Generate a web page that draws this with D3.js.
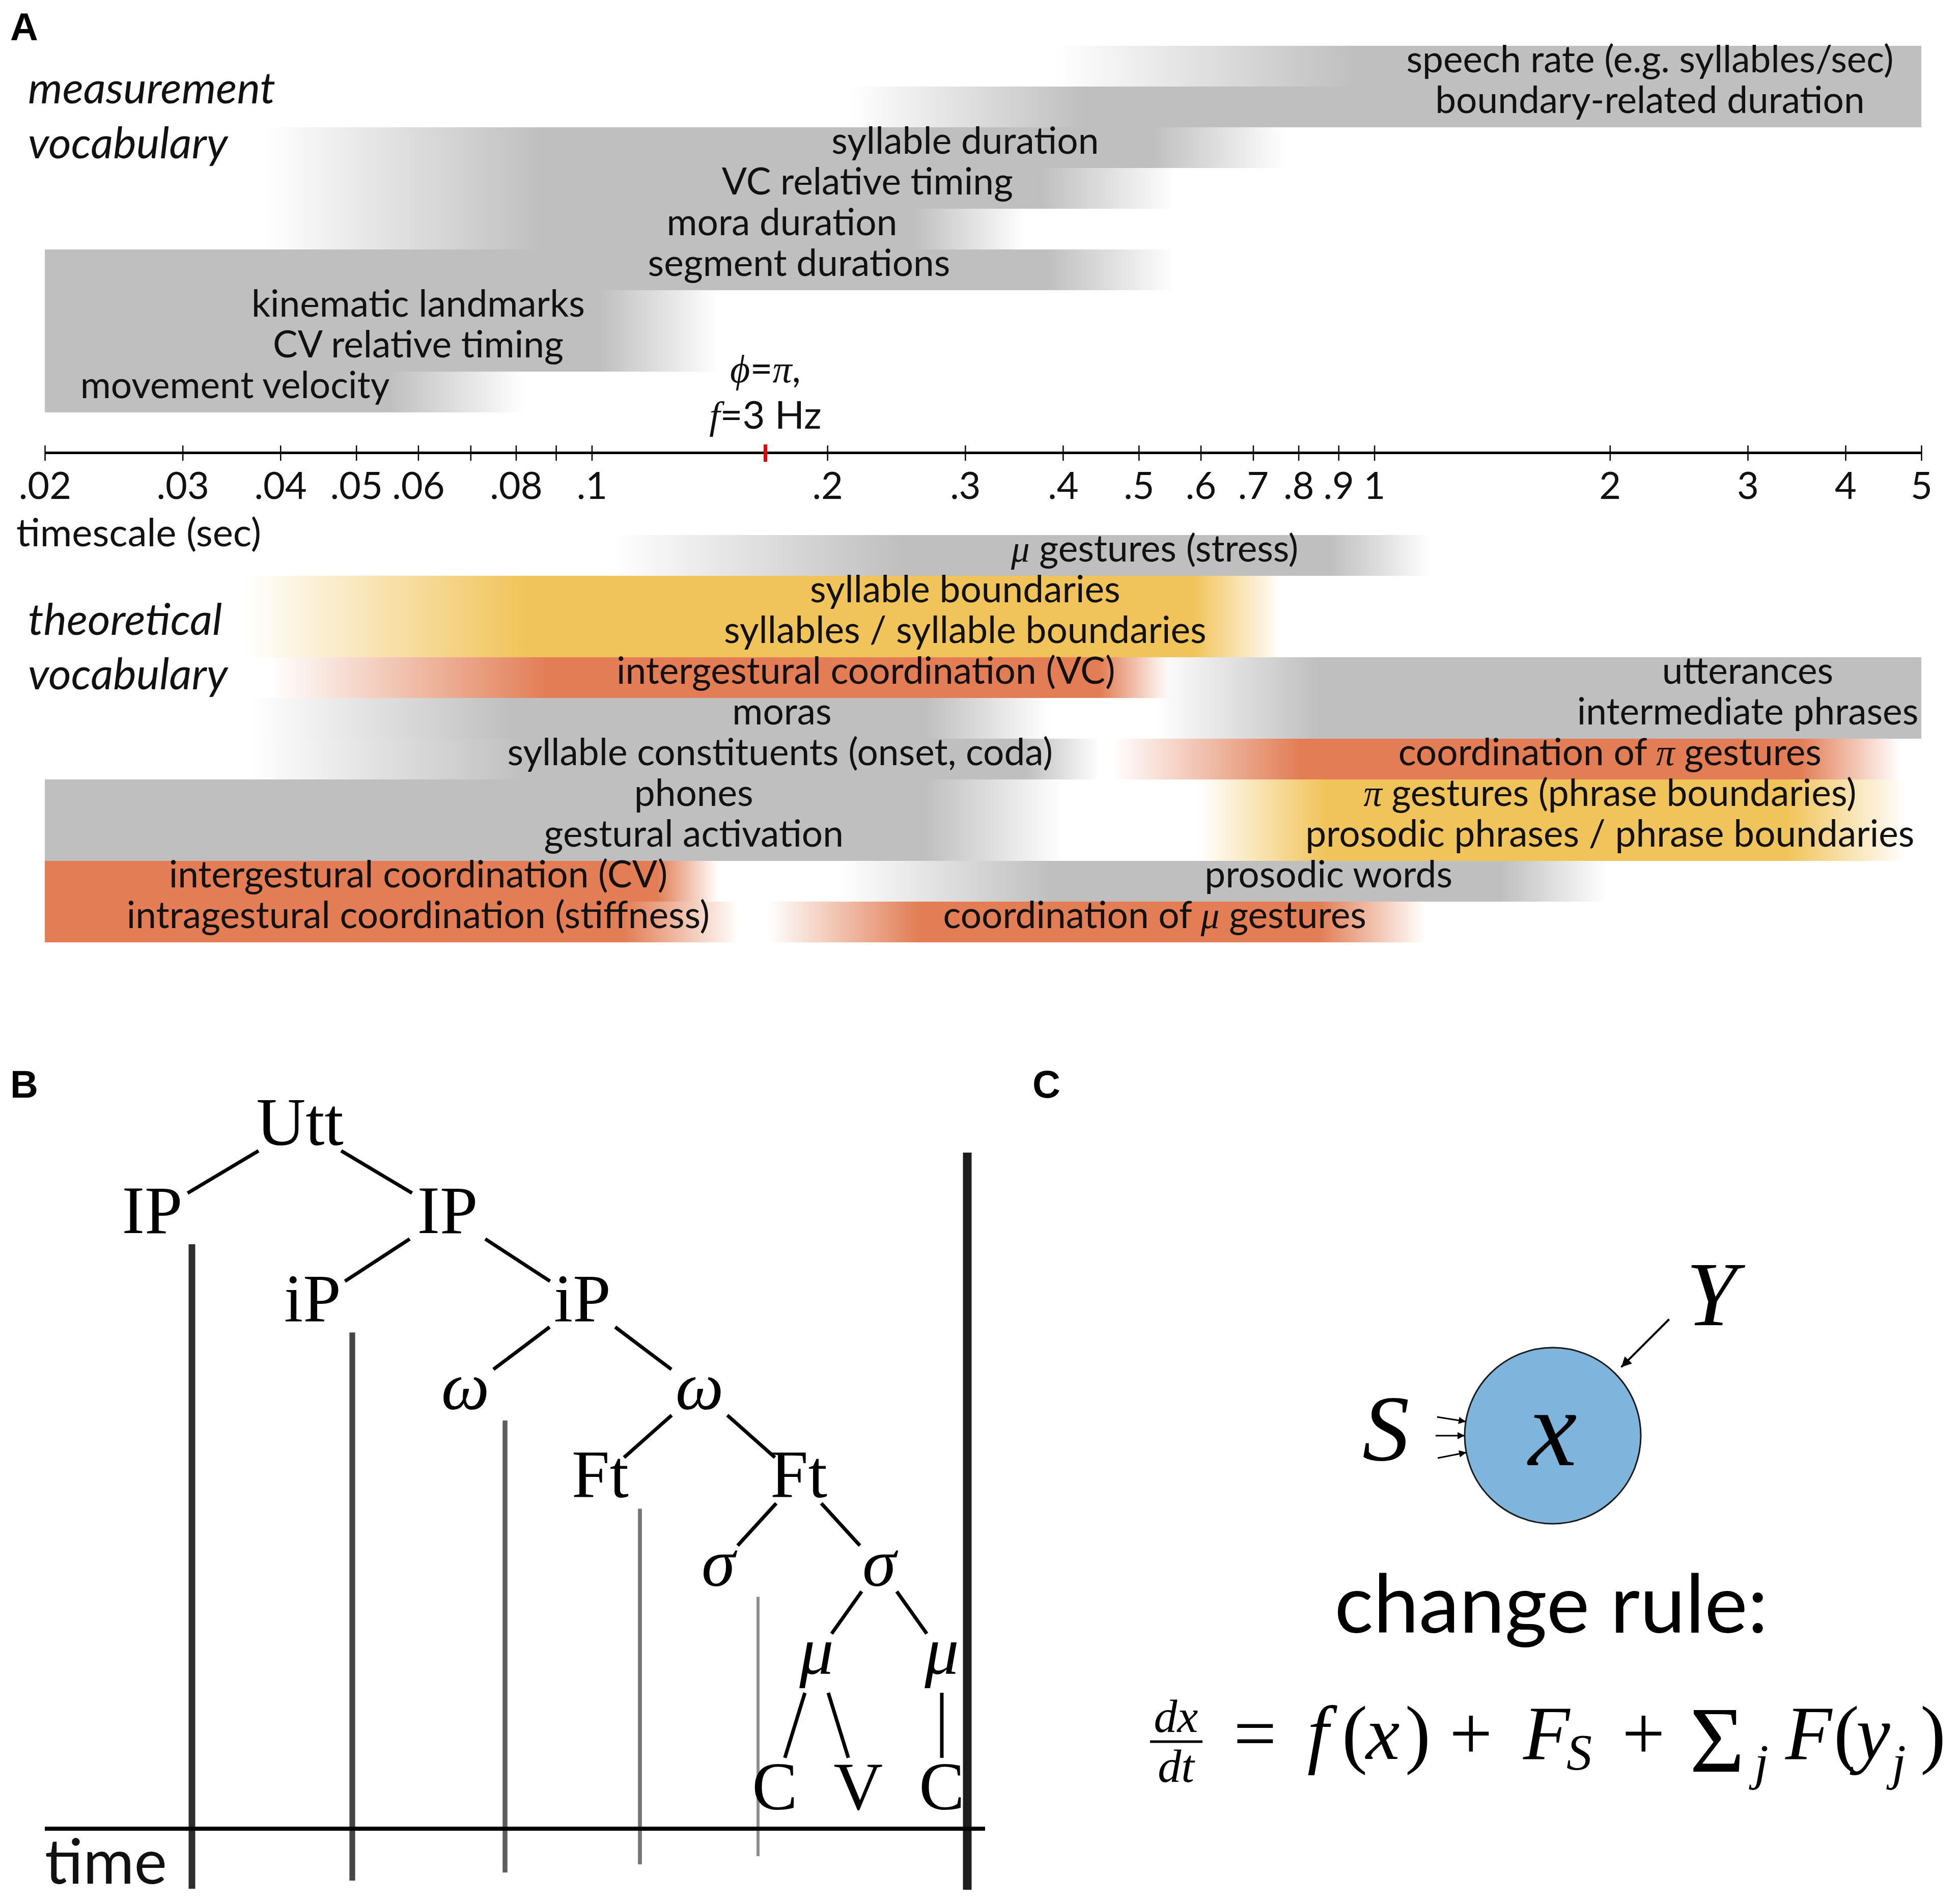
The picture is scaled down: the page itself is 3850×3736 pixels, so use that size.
<!DOCTYPE html>
<html>
<head>
<meta charset="utf-8">
<script src="https://cdn.jsdelivr.net/npm/d3@7"></script>
<style>
  body { margin: 0; background: #fff; }
  svg { display: block; }
</style>
</head>
<body>
<div id="chart"></div>
<script>
// ---------- data ----------
// timescale axis (seconds)
var tickValues = [.02, .03, .04, .05, .06, .07, .08, .09, .1, .2, .3, .4, .5, .6, .7, .8, .9, 1, 2, 3, 4, 5];
var tickLabels = [".02", ".03", ".04", ".05", ".06", "", ".08", "", ".1", ".2", ".3", ".4", ".5", ".6", ".7", ".8", ".9", "1", "2", "3", "4", "5"];
var markTime = 1 / 6; // phi = pi at f = 3 Hz

// bands: [row, rows spanned, kind, fade-in start, solid from, solid to, fade-out end] in seconds
var measureBands = [
  [0, 1, "unit", 0.39, 0.94, 5, 5],
  [1, 1, "unit", 0.214, 0.425, 5, 5],
  [2, 1, "unit", 0.038, 0.086, 0.52, 0.77],
  [3, 1, "unit", 0.038, 0.086, 0.374, 0.556],
  [4, 1, "unit", 0.038, 0.086, 0.257, 0.358],
  [5, 1, "unit", 0.02, 0.02, 0.382, 0.556],
  [6, 2, "unit", 0.02, 0.02, 0.102, 0.145],
  [8, 1, "unit", 0.02, 0.02, 0.055, 0.082]
];
// labels: [text, row, centre (sec)]
var measureLabels = [
  ["speech rate (e.g. syllables/sec)", 0, 2.25],
  ["boundary-related duration", 1, 2.25],
  ["syllable duration", 2, 0.300],
  ["VC relative timing", 3, 0.225],
  ["mora duration", 4, 0.175],
  ["segment durations", 5, 0.184],
  ["kinematic landmarks", 6, 0.060],
  ["CV relative timing", 7, 0.060],
  ["movement velocity", 8, 0.035]
];

var theoryBands = [
  [0, 1, "unit", 0.106, 0.248, 0.878, 1.18],
  [1, 2, "boundary", 0.036, 0.082, 0.588, 0.76],
  [3, 1, "coordination", 0.039, 0.088, 0.446, 0.546],
  [3, 2, "unit", 0.526, 0.849, 5, 5],
  [4, 1, "unit", 0.0366, 0.079, 0.266, 0.385],
  [5, 1, "unit", 0.0366, 0.082, 0.358, 0.446],
  [5, 1, "coordination", 0.463, 0.804, 3.5, 4.7],
  [6, 2, "unit", 0.02, 0.02, 0.266, 0.399],
  [6, 2, "boundary", 0.599, 0.865, 3.37, 4.78],
  [8, 1, "coordination", 0.02, 0.02, 0.121, 0.145],
  [8, 1, "unit", 0.206, 0.385, 1.45, 1.98],
  [9, 1, "coordination", 0.02, 0.02, 0.110, 0.154],
  [9, 1, "coordination", 0.168, 0.262, 0.849, 1.16]
];
var theoryLabels = [
  ["μ gestures (stress)", 0, 0.524],
  ["syllable boundaries", 1, 0.300],
  ["syllables / syllable boundaries", 2, 0.300],
  ["intergestural coordination (VC)", 3, 0.224],
  ["utterances", 3, 3.0],
  ["moras", 4, 0.175],
  ["intermediate phrases", 4, 3.0],
  ["syllable constituents (onset, coda)", 5, 0.174],
  ["coordination of π gestures", 5, 2.0],
  ["phones", 6, 0.135],
  ["π gestures (phrase boundaries)", 6, 2.0],
  ["gestural activation", 7, 0.135],
  ["prosodic phrases / phrase boundaries", 7, 2.0],
  ["intergestural coordination (CV)", 8, 0.060],
  ["prosodic words", 8, 0.874],
  ["intragestural coordination (stiffness)", 9, 0.060],
  ["coordination of μ gestures", 9, 0.524]
];

// panel B: prosodic hierarchy
var treeIds     = ["utt", "ip1", "ip2", "ipa", "ipb", "w1", "w2", "ft1", "ft2", "s1", "s2", "m1", "m2", "c1", "v", "c2"];
var treeParents = ["", "utt", "utt", "ip2", "ip2", "ipb", "ipb", "w2", "w2", "ft2", "ft2", "s2", "s2", "m1", "m1", "m2"];
var treeLabels  = ["Utt", "IP", "IP", "iP", "iP", "ω", "ω", "Ft", "Ft", "σ", "σ", "μ", "μ", "C", "V", "C"];

// ---------- drawing ----------
var W = 3850, H = 3736;
var sans = "Lato, Carlito, 'Open Sans', sans-serif";
var serif = "'Liberation Serif', 'DejaVu Serif', serif";

var svg = d3.select("#chart").append("svg")
    .attr("width", W).attr("height", H)
    .attr("viewBox", "0 0 " + W + " " + H);
var defs = svg.append("defs");

var color = d3.scaleOrdinal()
    .domain(["unit", "coordination", "boundary"])
    .range(["#bfbfbf", "#e27d55", "#f1c45b"]);

var x = d3.scaleLog().domain([0.02, 5]).range([88, 3774]);
var rowH = 80;
var yMeasure = d3.scaleLinear().domain([0, 9]).range([90, 90 + 9 * rowH]);
var yTheory = d3.scaleLinear().domain([0, 10]).range([1051, 1051 + 10 * rowH]);

function panelLetter(txt, px, py) {
  svg.append("text").attr("x", px).attr("y", py)
     .attr("font-family", "'Liberation Sans', Arial, sans-serif")
     .attr("font-weight", "bold").attr("font-size", 76).text(txt);
}

function drawBands(name, bands, yScale) {
  var g = svg.append("g");
  bands.forEach(function(b, i) {
    var x0 = x(b[3]), x1 = x(b[4]), x2 = x(b[5]), x3 = x(b[6]);
    var w = x3 - x0;
    var id = name + "-grad-" + i;
    var grad = defs.append("linearGradient").attr("id", id)
        .attr("x1", "0%").attr("x2", "100%").attr("y1", "0%").attr("y2", "0%");
    var stops = [
      [0, b[3] === b[4] ? 1 : 0],
      [(x1 - x0) / w, 1],
      [(x2 - x0) / w, 1],
      [1, b[5] === b[6] ? 1 : 0]
    ];
    stops.forEach(function(s) {
      grad.append("stop").attr("offset", s[0])
          .attr("stop-color", color(b[2])).attr("stop-opacity", s[1]);
    });
    g.append("rect")
      .attr("x", x0).attr("y", yScale(b[0]))
      .attr("width", w).attr("height", rowH * b[1])
      .attr("fill", "url(#" + id + ")");
  });
}

function drawLabels(labels, yScale) {
  var g = svg.append("g").attr("font-family", sans).attr("font-size", 73).attr("fill", "#111");
  labels.forEach(function(l) {
    var t = g.append("text")
      .attr("x", x(l[2]))
      .attr("y", yScale(l[1]) + rowH / 2 + 12)
      .attr("text-anchor", "middle");
    l[0].split(/([μπ])/).forEach(function(part) {
      if (!part) return;
      var sp = t.append("tspan").text(part);
      if (part === "μ" || part === "π") {
        sp.attr("font-family", serif).attr("font-style", "italic");
      }
    });
  });
}

// ---- panel A ----
panelLetter("A", 20, 79);

drawBands("m", measureBands, yMeasure);
drawBands("t", theoryBands, yTheory);
drawLabels(measureLabels, yMeasure);
drawLabels(theoryLabels, yTheory);

var side = svg.append("g").attr("font-family", sans).attr("font-style", "italic")
    .attr("font-size", 86).attr("fill", "#111");
side.append("text").attr("x", 55).attr("y", 203).text("measurement");
side.append("text").attr("x", 55).attr("y", 311).text("vocabulary");
side.append("text").attr("x", 55).attr("y", 1247).text("theoretical");
side.append("text").attr("x", 55).attr("y", 1354).text("vocabulary");

// axis
var axis = d3.axisBottom(x)
    .tickValues(tickValues)
    .tickFormat(function(d, i) { return tickLabels[i]; })
    .tickSizeOuter(0);
var ag = svg.append("g").attr("transform", "translate(0,889)").call(axis);
ag.select(".domain").attr("stroke", "#000").attr("stroke-width", 5);
ag.selectAll(".tick line").attr("y1", -14).attr("y2", 16).attr("stroke", "#000").attr("stroke-width", 2.5);
ag.selectAll(".tick text").attr("y", 91).attr("dy", null)
  .attr("font-family", sans).attr("font-size", 74).attr("fill", "#111");
ag.append("line")
  .attr("x1", x(markTime)).attr("x2", x(markTime))
  .attr("y1", -16).attr("y2", 18)
  .attr("stroke", "#e00000").attr("stroke-width", 7);

svg.append("text").attr("x", 32).attr("y", 1073)
  .attr("font-family", sans).attr("font-size", 76).attr("fill", "#111")
  .text("timescale (sec)");

var note = svg.append("g").attr("font-family", sans).attr("font-size", 76)
    .attr("fill", "#111").attr("text-anchor", "middle");
var n1 = note.append("text").attr("x", x(markTime)).attr("y", 751);
n1.append("tspan").attr("font-family", serif).attr("font-style", "italic").text("ϕ");
n1.append("tspan").text("=");
n1.append("tspan").attr("font-family", serif).attr("font-style", "italic").text("π");
n1.append("tspan").text(",");
var n2 = note.append("text").attr("x", x(markTime)).attr("y", 842);
n2.append("tspan").attr("font-family", serif).attr("font-style", "italic").text("f");
n2.append("tspan").text("=3 Hz");

// ---- panel B ----
panelLetter("B", 20, 2156);

var root = d3.stratify()
    .id(function(d) { return d.id; })
    .parentId(function(d) { return d.parent || null; })(
      treeIds.map(function(id, i) { return { id: id, parent: treeParents[i], label: treeLabels[i] }; })
    );

// horizontal half-spread of sister nodes at each depth, and baseline per depth
var spread = [0, 290, 265, 230, 195, 158, 123, 82];
var baseY = d3.scaleLinear().domain([0, 1]).range([2249, 2249 + 173.1]);
root.x = 589;
root.each(function(n) {
  n.y = baseY(n.depth);
  if (n.depth === 7) n.y += 93;
  if (n.children) {
    if (n.children.length === 1) {
      n.children[0].x = n.x;
    } else {
      n.children[0].x = n.x - spread[n.depth + 1];
      n.children[1].x = n.x + spread[n.depth + 1];
    }
  }
});

var tree = svg.append("g");
// edges
root.links().forEach(function(l) {
  var sx = l.source.x, sy = l.source.y - 37, tx = l.target.x, ty = l.target.y - 37;
  var a = 0.28, b = 0.76;
  tree.append("line")
    .attr("x1", sx + (tx - sx) * a).attr("y1", sy + (ty - sy) * a)
    .attr("x2", sx + (tx - sx) * b).attr("y2", sy + (ty - sy) * b)
    .attr("stroke", "#000").attr("stroke-width", 7);
});
// boundary markers after each left constituent
var markerShade = d3.scaleLinear().domain([1, 5]).range(["#2e2e2e", "#8e8e8e"]);
var markerWidth = d3.scaleLinear().domain([1, 5]).range([13, 6]);
root.descendants().forEach(function(n) {
  if (n.children && n.children.length === 2 && n.depth < 5) {
    var c = n.children[0];
    tree.append("line")
      .attr("x1", c.x + 78).attr("x2", c.x + 78)
      .attr("y1", c.y + 22).attr("y2", 3726 - 16 * c.depth)
      .attr("stroke", markerShade(c.depth)).attr("stroke-width", markerWidth(c.depth));
  }
});
tree.append("line").attr("x1", 1900).attr("x2", 1900).attr("y1", 2264).attr("y2", 3712)
  .attr("stroke", "#1e1e1e").attr("stroke-width", 17);
tree.append("line").attr("x1", 88).attr("x2", 1935).attr("y1", 3592).attr("y2", 3592)
  .attr("stroke", "#000").attr("stroke-width", 8);
tree.append("text").attr("x", 88).attr("y", 3700)
  .attr("font-family", sans).attr("font-size", 122).attr("fill", "#111").text("time");
// node labels
root.descendants().forEach(function(n) {
  var greek = /[ωσμ]/.test(n.data.label);
  tree.append("text")
    .attr("x", n.x).attr("y", n.y)
    .attr("text-anchor", "middle")
    .attr("font-family", serif)
    .attr("font-style", greek ? "italic" : "normal")
    .attr("font-size", 134)
    .attr("fill", "#000")
    .text(n.data.label);
});

// ---- panel C ----
panelLetter("C", 2028, 2156);

var cx = 3050, cy = 2820, r = 173;
defs.append("marker").attr("id", "headS")
  .attr("viewBox", "0 0 10 10").attr("refX", 10).attr("refY", 5)
  .attr("markerUnits", "userSpaceOnUse").attr("markerWidth", 20).attr("markerHeight", 14)
  .attr("orient", "auto")
  .append("path").attr("d", "M0,0 L10,5 L0,10 Z").attr("fill", "#000");
defs.append("marker").attr("id", "headL")
  .attr("viewBox", "0 0 10 10").attr("refX", 10).attr("refY", 5)
  .attr("markerUnits", "userSpaceOnUse").attr("markerWidth", 28).attr("markerHeight", 20)
  .attr("orient", "auto")
  .append("path").attr("d", "M0,0 L10,5 L0,10 Z").attr("fill", "#000");

var cg = svg.append("g");
cg.append("circle").attr("cx", cx).attr("cy", cy).attr("r", r)
  .attr("fill", "#7fb4dd").attr("stroke", "#1a1a1a").attr("stroke-width", 3);
[189.2, 180, 169].forEach(function(deg) {
  var a = deg * Math.PI / 180;
  cg.append("line")
    .attr("x1", cx + 1.33 * r * Math.cos(a)).attr("y1", cy + 1.33 * r * Math.sin(a))
    .attr("x2", cx + 1.0 * r * Math.cos(a)).attr("y2", cy + 1.0 * r * Math.sin(a))
    .attr("stroke", "#000").attr("stroke-width", 3).attr("marker-end", "url(#headS)");
});
var ay = -45 * Math.PI / 180;
cg.append("line")
  .attr("x1", cx + 1.87 * r * Math.cos(ay)).attr("y1", cy + 1.87 * r * Math.sin(ay))
  .attr("x2", cx + 1.1 * r * Math.cos(ay)).attr("y2", cy + 1.1 * r * Math.sin(ay))
  .attr("stroke", "#000").attr("stroke-width", 4).attr("marker-end", "url(#headL)");

function mathText(g, txt, px, py, size, italic, anchor) {
  return g.append("text").attr("x", px).attr("y", py)
    .attr("font-family", serif).attr("font-size", size)
    .attr("font-style", italic ? "italic" : "normal")
    .attr("text-anchor", anchor || "start").attr("fill", "#000").text(txt);
}
mathText(cg, "x", cx, 2878, 215, true, "middle");
mathText(cg, "S", 2676, 2868, 185, true);
mathText(cg, "Y", 3312, 2603, 180, true);

cg.append("text").attr("x", 3047).attr("y", 3207).attr("text-anchor", "middle")
  .attr("font-family", sans).attr("font-size", 160).attr("fill", "#000").text("change rule:");

// equation dx/dt = f(x) + F_S + sum_j F(y_j)
var eq = svg.append("g");
var base = 3455;
mathText(eq, "dx", 2310, 3402, 92, true, "middle");
eq.append("line").attr("x1", 2259).attr("x2", 2362).attr("y1", 3421).attr("y2", 3421)
  .attr("stroke", "#000").attr("stroke-width", 5);
mathText(eq, "dt", 2310, 3500, 92, true, "middle");
mathText(eq, "=", 2423, base, 150, false);
mathText(eq, "f", 2568, base, 150, true);
mathText(eq, "(", 2636, base, 150, false);
mathText(eq, "x", 2683, base, 150, true);
mathText(eq, ")", 2760, base, 150, false);
mathText(eq, "+", 2847, base, 150, false);
mathText(eq, "F", 2992, base, 150, true);
mathText(eq, "S", 3077, base + 20, 100, true);
mathText(eq, "+", 3186, base, 150, false);
mathText(eq, "Σ", 3319, base + 25, 185, false);
mathText(eq, "j", 3446, base + 40, 100, true);
mathText(eq, "F", 3507, base, 150, true);
mathText(eq, "(", 3602, base, 150, false);
mathText(eq, "y", 3646, base, 150, true);
mathText(eq, "j", 3716, base + 40, 100, true);
mathText(eq, ")", 3772, base, 150, false);
</script>
</body>
</html>
